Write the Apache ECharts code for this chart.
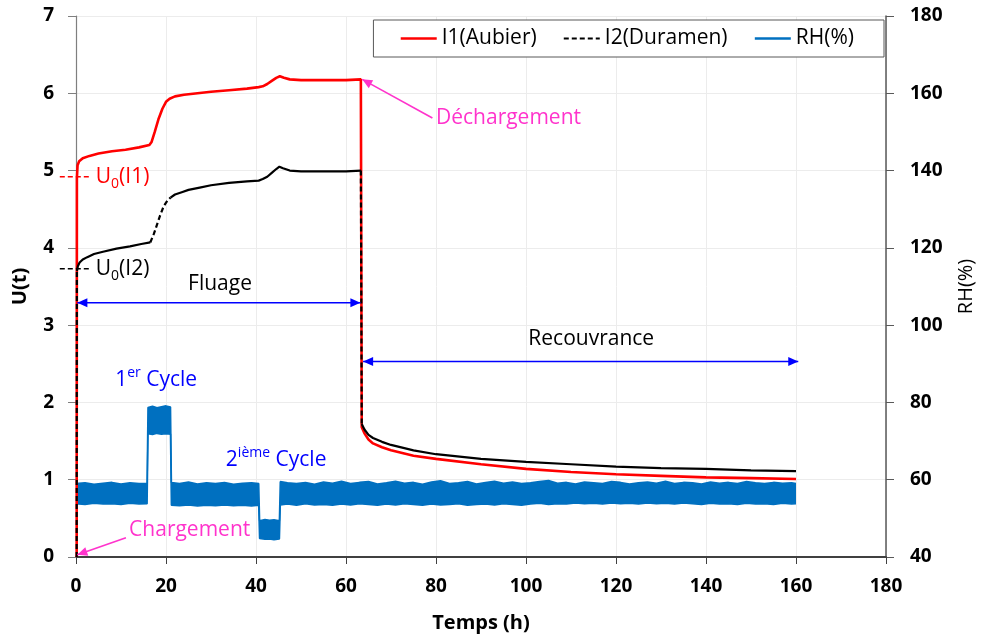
<!DOCTYPE html>
<html>
<head>
<meta charset="utf-8">
<title>Fluage / Recouvrance</title>
<script src="https://cdn.jsdelivr.net/npm/echarts@6/dist/echarts.min.js"></script>
<style>
html, body { margin: 0; padding: 0; background: #fff; }
#chart { width: 984px; height: 639px; }
</style>
</head>
<body>
<div id="chart"></div>
<script>
// I1 (aubier) : temps (h) / U(t)
var t1 = [0.15, 0.2, 0.35, 0.7, 1.5, 3, 5, 8, 11, 14,
          16.3, 16.8, 17.5, 18.3, 19.2, 20.0, 20.8, 22, 24, 27,
          30, 34, 38, 40.6, 41.5, 42.5, 43.5, 44.5, 45.3, 46.2,
          47.5, 50, 55, 60, 63.3, 63.5, 64.1, 65, 66, 68,
          70, 75, 80, 90, 100, 110, 120, 130, 140, 150, 160];
var u1 = [0, 4.9, 5.07, 5.12, 5.16, 5.19, 5.22, 5.25, 5.27, 5.3,
          5.33, 5.37, 5.5, 5.66, 5.8, 5.89, 5.93, 5.96, 5.98, 6.0,
          6.02, 6.04, 6.06, 6.08, 6.09, 6.12, 6.16, 6.2, 6.22, 6.2,
          6.18, 6.17, 6.17, 6.17, 6.18, 1.68, 1.6, 1.52, 1.47, 1.42,
          1.38, 1.31, 1.27, 1.2, 1.14, 1.1, 1.07, 1.05, 1.03, 1.02, 1.01];

// I2 (duramen)
var t2 = [0.15, 0.2, 0.4, 0.8, 1.5, 2.5, 4, 6, 9, 12,
          14.5, 16.5, 17.3, 18.0, 18.7, 19.5, 20.3, 21.0, 22, 23.5,
          25, 27.5, 30, 34, 38, 40.6, 41.5, 42.5, 43.5, 44.5,
          45.2, 46.0, 47.5, 50, 55, 60, 63.3, 63.5, 64.1, 65,
          66, 68, 70, 75, 80, 90, 100, 110, 120, 130,
          140, 150, 160];
var u2 = [0, 3.7, 3.76, 3.81, 3.85, 3.88, 3.92, 3.95, 3.99, 4.02,
          4.05, 4.07, 4.18, 4.3, 4.42, 4.54, 4.61, 4.65, 4.69, 4.72,
          4.75, 4.78, 4.81, 4.84, 4.86, 4.87, 4.89, 4.92, 4.97, 5.02,
          5.05, 5.03, 5.0, 4.99, 4.99, 4.99, 5.0, 1.72, 1.65, 1.58,
          1.54, 1.49, 1.45, 1.38, 1.33, 1.27, 1.23, 1.2, 1.17, 1.15,
          1.14, 1.12, 1.11];
// morceaux en pointillés (index de début/fin dans t2)
var i2Dashed = [[0, 1], [11, 17], [36, 37]];
var i2Solid = [[1, 11], [17, 36], [37, 52]];

// RH (%) : bande bruitée, enveloppe haute et basse
var tRH = [0, 2, 4, 6, 8, 10, 12, 14, 15.8,
           16.0, 17, 18, 19, 20, 21.0,
           21.2, 23, 25, 27, 29, 31, 33, 35, 37, 39, 40.6,
           40.8, 42, 43, 44, 45.2,
           45.4, 47, 49, 51, 53, 55, 57, 59, 61, 63, 65, 67, 69, 71, 73, 75, 77, 79, 81, 83,
           85, 87, 89, 91, 93, 95, 97, 99, 101, 103, 105, 107, 109, 111, 113, 115, 117, 119, 121, 123,
           125, 127, 129, 131, 133, 135, 137, 139, 141, 143, 145, 147, 149, 151, 153, 155, 157, 159, 160];
var rhHigh = [59.0, 59.2, 58.8, 59.1, 59.3, 58.9, 59.2, 59.0, 59.1,
              78.7, 79.0, 78.6, 78.9, 79.1, 78.8,
              59.3, 59.0, 59.4, 58.9, 59.2, 59.0, 59.3, 58.8, 59.1, 59.2, 59.0,
              49.4, 49.7, 49.5, 49.6, 49.4,
              59.5, 59.2, 59.0, 59.3, 58.8, 59.4, 59.1, 59.6, 59.0, 59.3,
              59.5, 58.9, 59.2, 59.6, 59.1, 59.3, 58.8, 59.4, 59.7, 59.0,
              59.2, 59.5, 58.9, 59.3, 59.6, 59.1, 59.4, 59.0, 59.2, 59.5,
              59.8, 59.1, 59.3, 58.9, 59.4, 59.2, 59.0, 59.5, 59.3, 58.9,
              59.2, 59.4, 59.1, 59.6, 59.0, 59.3, 59.2, 58.9, 59.4, 59.1,
              59.3, 59.0, 59.5, 59.2, 59.0, 59.3, 59.1, 59.2, 59.0];
var rhLow = [53.8, 53.6, 53.9, 53.7, 53.8, 53.6, 53.9, 53.7, 53.8,
             71.9, 71.7, 72.0, 71.8, 71.9, 71.8,
             53.4, 53.3, 53.5, 53.2, 53.4, 53.3, 53.5, 53.3, 53.4, 53.2, 53.4,
             44.8, 44.6, 44.7, 44.5, 44.7,
             53.5, 53.7, 53.4, 53.8, 53.5, 53.6, 53.4, 53.7, 53.5, 53.8,
             53.6, 53.4, 53.7, 53.5, 53.8, 53.6, 53.4, 53.7, 53.5, 53.6,
             53.8, 53.4, 53.6, 53.7, 53.5, 53.8, 53.6, 53.4, 53.7, 53.9,
             53.6, 53.8, 53.7, 54.0, 53.8, 53.9, 53.7, 54.0, 53.8, 53.9,
             53.7, 54.0, 53.8, 53.9, 53.7, 54.0, 53.8, 53.6, 53.9, 53.7,
             53.8, 53.6, 53.9, 53.7, 53.8, 53.6, 53.9, 53.7, 53.8];

var FONT = 'Open Sans';
var RED = '#ff0000', BLUE = '#0070c0';

function pairs(ts, vs, a, b) {
    var out = [];
    for (var i = a; i <= b; i++) out.push([ts[i], vs[i]]);
    return out;
}

var chart = echarts.init(document.getElementById('chart'));

var series = [
    {
        name: 'bande RH',
        type: 'custom',
        yAxisIndex: 1,
        silent: true,
        z: 1,
        data: [[0, 50]],
        renderItem: function (params, api) {
            var pts = [], i;
            for (i = 0; i < tRH.length; i++) pts.push(api.coord([tRH[i], rhHigh[i]]));
            for (i = tRH.length - 1; i >= 0; i--) pts.push(api.coord([tRH[i], rhLow[i]]));
            return { type: 'polygon', shape: { points: pts }, style: { fill: BLUE } };
        }
    },
    {
        name: 'RH(%)', type: 'line', yAxisIndex: 1, z: 2, symbol: 'none', color: BLUE,
        lineStyle: { color: BLUE, width: 1.6 },
        data: pairs(tRH, rhHigh, 0, tRH.length - 1)
    },
    {
        name: 'RH(%)', type: 'line', yAxisIndex: 1, z: 2, symbol: 'none', color: BLUE,
        lineStyle: { color: BLUE, width: 1.6 },
        data: pairs(tRH, rhLow, 0, tRH.length - 1)
    },
    {
        name: 'I1(Aubier)', type: 'line', z: 3, symbol: 'none', color: RED,
        lineStyle: { color: RED, width: 2.6 },
        data: pairs(t1, u1, 0, t1.length - 1)
    }
];
i2Dashed.forEach(function (r) {
    series.push({
        name: 'I2(Duramen)', type: 'line', z: 4, symbol: 'none', color: '#000',
        lineStyle: { color: '#000', width: 2.2, type: [5, 3] },
        data: pairs(t2, u2, r[0], r[1])
    });
});
i2Solid.forEach(function (r) {
    series.push({
        name: 'I2(Duramen)', type: 'line', z: 4, symbol: 'none', color: '#000',
        lineStyle: { color: '#000', width: 2.2 },
        data: pairs(t2, u2, r[0], r[1])
    });
});

var option = {
    animation: false,
    backgroundColor: '#fff',
    grid: { left: 76, right: 98, top: 16, bottom: 82 },
    legend: {
        data: [
            { name: 'I1(Aubier)', lineStyle: { color: RED, width: 2.6 } },
            { name: 'I2(Duramen)', lineStyle: { color: '#000', width: 2.2 } },
            { name: 'RH(%)', lineStyle: { color: BLUE, width: 2.6 } }
        ],
        right: 100, top: 20,
        padding: [8, 30, 8, 26],
        itemGap: 26, itemWidth: 36, itemHeight: 14,
        itemStyle: { opacity: 0 },
        backgroundColor: '#fff', borderColor: '#595959', borderWidth: 1,
        textStyle: { fontFamily: FONT, fontSize: 21, color: '#000' }
    },
    xAxis: {
        type: 'value', min: 0, max: 180, interval: 20,
        name: 'Temps (h)', nameLocation: 'middle', nameGap: 56,
        nameTextStyle: { fontFamily: FONT, fontSize: 20, fontWeight: 'bold', color: '#000' },
        axisLine: { lineStyle: { color: '#404040', width: 2 } },
        axisTick: { length: 7, lineStyle: { color: '#404040' } },
        axisLabel: { margin: 20, fontFamily: FONT, fontSize: 19, fontWeight: 'bold', color: '#000' },
        splitLine: { show: true, lineStyle: { color: '#ececec' } }
    },
    yAxis: [
        {
            type: 'value', min: 0, max: 7, interval: 1,
            name: 'U(t)', nameLocation: 'middle', nameGap: 46,
            nameTextStyle: { fontFamily: FONT, fontSize: 20, fontWeight: 'bold', color: '#000' },
            axisLine: { show: true, lineStyle: { color: '#7f7f7f', width: 1.2 } },
            axisTick: { show: true, length: 8, lineStyle: { color: '#7f7f7f' } },
            axisLabel: { margin: 22, fontFamily: FONT, fontSize: 19, fontWeight: 'bold', color: '#000' },
            splitLine: { show: true, lineStyle: { color: '#ececec' } }
        },
        {
            type: 'value', min: 40, max: 180, interval: 20, position: 'right',
            name: 'RH(%)', nameLocation: 'middle', nameGap: 70,
            nameTextStyle: { fontFamily: FONT, fontSize: 20, color: '#000' },
            axisLine: { show: true, lineStyle: { color: '#595959', width: 1.5 } },
            axisTick: { show: true, length: 8, lineStyle: { color: '#595959' } },
            axisLabel: { margin: 24, fontFamily: FONT, fontSize: 19, fontWeight: 'bold', color: '#000' },
            splitLine: { show: false }
        }
    ],
    series: series
};
chart.setOption(option);

// ---- annotations (flèches, textes) placées via les axes ----
function px(t, u) { return chart.convertToPixel({ xAxisIndex: 0, yAxisIndex: 0 }, [t, u]); }
var g = [];
function seg(a, b, color, w, dash) {
    g.push({ type: 'line', z: 100, shape: { x1: a[0], y1: a[1], x2: b[0], y2: b[1] },
             style: { stroke: color, lineWidth: w, lineDash: dash || null } });
}
function head(tip, from, color) {
    var dx = tip[0] - from[0], dy = tip[1] - from[1], L = Math.sqrt(dx * dx + dy * dy);
    var ux = dx / L, uy = dy / L, len = 10, hw = 4.5;
    var bx = tip[0] - ux * len, by = tip[1] - uy * len;
    g.push({ type: 'polygon', z: 100,
             shape: { points: [tip, [bx - uy * hw, by + ux * hw], [bx + uy * hw, by - ux * hw]] },
             style: { fill: color } });
}
function arrow(a, b, color, both) {
    seg(a, b, color, 1.6);
    head(b, a, color);
    if (both) head(a, b, color);
}
function label(p, txt, color, align, rich) {
    var st = { text: txt, x: p[0], y: p[1], fill: color, align: align || 'left', verticalAlign: 'middle',
               fontFamily: FONT, fontSize: 21 };
    if (rich) st.rich = rich;
    g.push({ type: 'text', z: 101, style: st });
}
function subSup(color) {
    return {
        m: { fontFamily: FONT, fontSize: 21, fill: color, lineHeight: 28 },
        sb: { fontFamily: FONT, fontSize: 14, fill: color, lineHeight: 14, verticalAlign: 'bottom' },
        sp: { fontFamily: FONT, fontSize: 14, fill: color, lineHeight: 16, verticalAlign: 'top' }
    };
}

var ABLUE = '#0000ff', PINK = '#ff33cc';
arrow(px(0.3, 3.29), px(63.2, 3.29), ABLUE, true);
label(px(32, 3.53), 'Fluage', '#000', 'center');
arrow(px(63.8, 2.53), px(160.5, 2.53), ABLUE, true);
label(px(114.5, 2.82), 'Recouvrance', '#000', 'center');
arrow(px(79.2, 5.68), px(63.6, 6.18), PINK, false);
label(px(80, 5.68), 'Déchargement', PINK, 'left');
arrow(px(11.1, 0.25), px(0.3, 0.03), PINK, false);
label(px(11.8, 0.35), 'Chargement', PINK, 'left');
seg(px(-3.6, 4.92), px(3.4, 4.92), RED, 1.6, [5, 3]);
label(px(4.4, 4.92), '{m|U}{sb|0}{m|(I1)}', RED, 'left', subSup(RED));
seg(px(-3.6, 3.73), px(3.4, 3.73), '#000', 1.6, [5, 3]);
label(px(4.4, 3.73), '{m|U}{sb|0}{m|(I2)}', '#000', 'left', subSup('#000'));
label(px(8.7, 2.29), '{m|1}{sp|er}{m| Cycle}', ABLUE, 'left', subSup(ABLUE));
label(px(33.3, 1.26), '{m|2}{sp|ième}{m| Cycle}', ABLUE, 'left', subSup(ABLUE));

chart.setOption({ graphic: g });
</script>
</body>
</html>
